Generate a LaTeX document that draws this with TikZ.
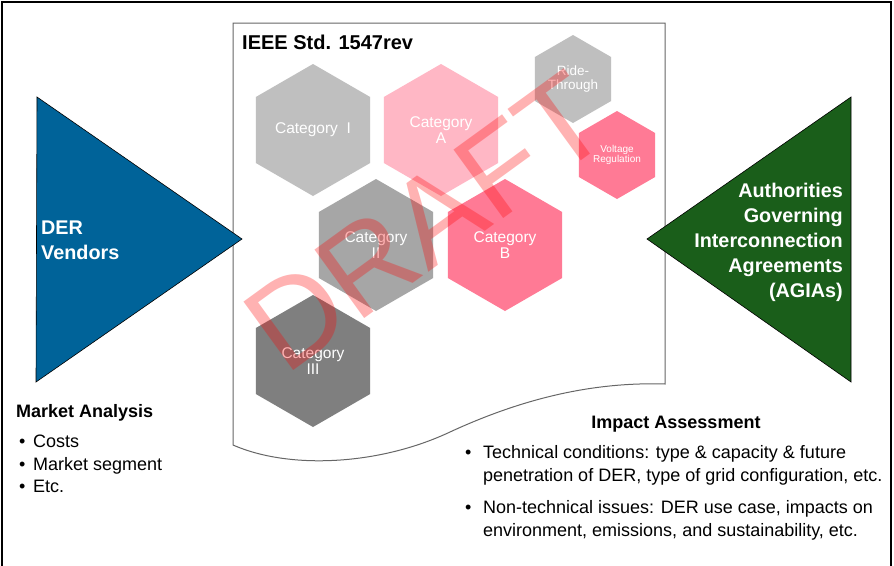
\documentclass[tikz,border=0pt]{standalone}
\usepackage{fontspec}
\setmainfont{Liberation Sans}
\usepackage{xcolor}
\usetikzlibrary{shapes.geometric, positioning}

\definecolor{derblue}{RGB}{0,99,153}
\definecolor{agiagreen}{RGB}{26,94,26}
\definecolor{catlight}{RGB}{191,191,191}
\definecolor{catmid}{RGB}{166,166,166}
\definecolor{catdark}{RGB}{127,127,127}
\definecolor{pinklight}{RGB}{255,183,197}
\definecolor{pinkdeep}{RGB}{255,122,149}

\begin{document}
\begin{tikzpicture}[x=1pt, y=-1pt,
    hexa/.style={regular polygon, regular polygon sides=6, shape border rotate=30, inner sep=0pt, minimum size=132pt, text=white, align=center, font=\fontsize{15.5}{16.6}\selectfont},
    small hexa/.style={hexa, minimum size=88pt},
    actor/.style={text=white, inner sep=0pt, font=\fontsize{19.8}{25}\selectfont\bfseries},
    heading/.style={anchor=base west, inner sep=0pt, font=\fontsize{18}{21}\selectfont\bfseries},
    item/.style={anchor=base west, inner sep=0pt, font=\fontsize{18}{23}\selectfont},
    para/.style={anchor=north west, inner sep=0pt, align=left, font=\fontsize{18}{23}\selectfont},
    frame/.style={line width=1.5pt},
    docline/.style={draw=black!60, line width=1pt, fill=white}
]
    \useasboundingbox (0,0) rectangle (894,565);
    \draw[frame] (2,570) -- (2,2) -- (891,2) -- (891,570);

    % standard sheet
    \draw[docline] (233,23) -- (665,23) -- (665,384)
        .. controls (600,382) and (530,395) .. (450,432)
        .. controls (380,465) and (290,470) .. (233,445) -- cycle;
    \node[anchor=base west, inner sep=0pt, font=\fontsize{20}{24}\selectfont\bfseries] (std) at (242,49) {IEEE Std. 1547rev};

    % categories
    \node[hexa, fill=catlight] (catI) at (313,130) {Category\ \ I};
    \node[hexa, fill=pinklight] (catA) at (441,130) {Category\\A};
    \node[hexa, fill=catmid] (catII) at (376,245) {Category\\II};
    \node[hexa, fill=pinkdeep] (catB) at (505,245) {Category\\B};
    \node[hexa, fill=catdark] (catIII) at (313,361) {Category\\III};
    \node[small hexa, fill=catlight, font=\fontsize{13.5}{13.3}\selectfont] (ride) at (573,79) {Ride-\\Through};
    \node[small hexa, fill=pinkdeep, font=\fontsize{10}{10.7}\selectfont] (volt) at (617,155) {Voltage\\Regulation};

    % stakeholders
    \filldraw[fill=derblue, draw=black, line width=0.6pt] (37,97) -- (242,239) -- (36,382) -- cycle;
    \node[actor, anchor=west, align=left] (vendors) at (41,240) {DER\\Vendors};
    \filldraw[fill=agiagreen, draw=black, line width=0.6pt] (851,97) -- (647,239) -- (851,382) -- cycle;
    \node[actor, anchor=east, align=right] (agias) at (843,242) {Authorities\\Governing\\Interconnection\\Agreements\\(AGIAs)};

    % market analysis
    \node[heading] (market) at (16,417) {Market Analysis};
    \node[item] (costsdot) at (19,447) {•};
    \node[item] (costs) at (33,447) {Costs};
    \node[item] (segdot) at (19,470) {•};
    \node[item] (segment) at (33,470) {Market segment};
    \node[item] (etcdot) at (19,492) {•};
    \node[item] (etc) at (33,492) {Etc.};

    % impact assessment
    \node[heading, anchor=base] (impact) at (676,428) {Impact Assessment};
    \node[item] (techdot) at (465,458) {•};
    \node[para] (tech) at (483,445) {Technical conditions: type \& capacity \& future\\penetration of DER, type of grid configuration, etc.};
    \node[item] (nontechdot) at (465,513) {•};
    \node[para] (nontech) at (483,500) {Non-technical issues: DER use case, impacts on\\environment, emissions, and sustainability, etc.};

    % watermark
    \node[rotate=36, text=red, text opacity=0.3, inner sep=0pt, font=\fontsize{123}{123}\selectfont] (draft) at (426,222) {DRAFT};
\end{tikzpicture}
\end{document}
